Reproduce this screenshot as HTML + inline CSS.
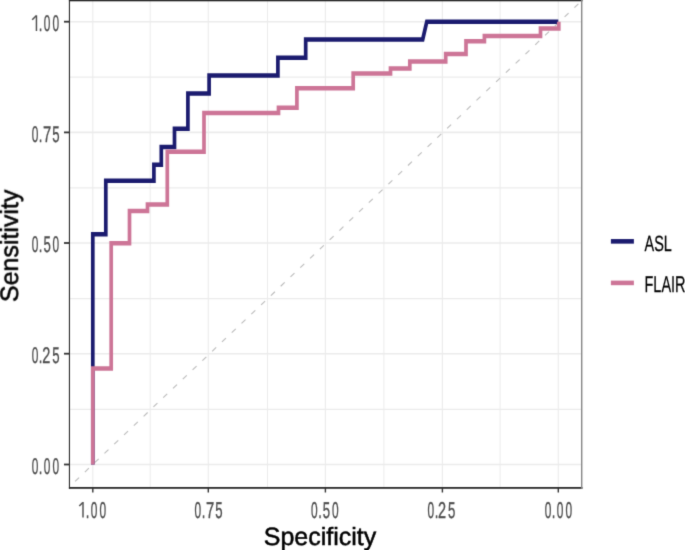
<!DOCTYPE html>
<html><head><meta charset="utf-8"><style>
html,body{margin:0;padding:0;background:#fff;}
body{width:685px;height:550px;overflow:hidden;position:relative;}
svg{position:absolute;left:0;top:0;font-family:"Liberation Sans",sans-serif;text-rendering:geometricPrecision;}
</style></head><body>
<svg width="685" height="550" viewBox="0 0 685 550">
<defs><filter id="soft" x="0" y="0" width="685" height="550" filterUnits="userSpaceOnUse" color-interpolation-filters="sRGB"><feConvolveMatrix order="3" kernelMatrix="1 6 1 6 36 6 1 6 1" divisor="64" edgeMode="duplicate"/></filter></defs>
<rect width="685" height="550" fill="#fff"/>
<g filter="url(#soft)">
<rect width="685" height="550" fill="#fff"/>
<line x1="150.20" y1="0.0" x2="150.20" y2="488.0" stroke="#ebebeb" stroke-width="1.0"/>
<line x1="267.50" y1="0.0" x2="267.50" y2="488.0" stroke="#ebebeb" stroke-width="1.0"/>
<line x1="383.90" y1="0.0" x2="383.90" y2="488.0" stroke="#ebebeb" stroke-width="1.0"/>
<line x1="500.10" y1="0.0" x2="500.10" y2="488.0" stroke="#ebebeb" stroke-width="1.0"/>
<line x1="69.5" y1="77.05" x2="581.6" y2="77.05" stroke="#ebebeb" stroke-width="1.3"/>
<line x1="69.5" y1="187.90" x2="581.6" y2="187.90" stroke="#ebebeb" stroke-width="1.3"/>
<line x1="69.5" y1="298.70" x2="581.6" y2="298.70" stroke="#ebebeb" stroke-width="1.3"/>
<line x1="69.5" y1="409.30" x2="581.6" y2="409.30" stroke="#ebebeb" stroke-width="1.3"/>
<line x1="92.8" y1="0.0" x2="92.8" y2="488.0" stroke="#ebebeb" stroke-width="1.1"/>
<line x1="208.3" y1="0.0" x2="208.3" y2="488.0" stroke="#ebebeb" stroke-width="1.1"/>
<line x1="325.4" y1="0.0" x2="325.4" y2="488.0" stroke="#ebebeb" stroke-width="1.1"/>
<line x1="442.4" y1="0.0" x2="442.4" y2="488.0" stroke="#ebebeb" stroke-width="1.1"/>
<line x1="558.3" y1="0.0" x2="558.3" y2="488.0" stroke="#ebebeb" stroke-width="1.1"/>
<line x1="69.5" y1="21.7" x2="581.6" y2="21.7" stroke="#ebebeb" stroke-width="1.6"/>
<line x1="69.5" y1="132.4" x2="581.6" y2="132.4" stroke="#ebebeb" stroke-width="1.6"/>
<line x1="69.5" y1="243.0" x2="581.6" y2="243.0" stroke="#ebebeb" stroke-width="1.6"/>
<line x1="69.5" y1="353.7" x2="581.6" y2="353.7" stroke="#ebebeb" stroke-width="1.6"/>
<line x1="69.5" y1="464.5" x2="581.6" y2="464.5" stroke="#ebebeb" stroke-width="1.6"/>
<line x1="69.50" y1="486.61" x2="581.60" y2="0.78" stroke="#b8b8b8" stroke-width="1.05" stroke-dasharray="5.5 7.995" stroke-dashoffset="5.776"/>
<g transform="scale(0.82,1)">
<polyline points="113.17,464.5 113.17,234.2 129.02,234.2 129.02,180.7 187.68,180.7 187.68,164.7 196.71,164.7 196.71,146.9 212.80,146.9 212.80,128.7 229.15,128.7 229.15,93.4 255.00,93.4 255.00,75.4 338.90,75.4 338.90,57.8 372.80,57.8 372.80,39.4 515.49,39.4 520.49,21.7 680.85,21.7" fill="none" stroke="#1b1b6f" stroke-width="4.5" stroke-linejoin="miter" stroke-linecap="butt"/>
<polyline points="113.17,464.5 113.17,368.4 135.61,368.4 135.61,243.2 157.93,243.2 157.93,211.0 179.88,211.0 179.88,204.4 204.02,204.4 204.02,151.8 248.78,151.8 248.78,113.0 339.63,113.0 339.63,107.7 362.07,107.7 362.07,88.3 430.73,88.3 430.73,73.6 476.22,73.6 476.22,68.6 499.76,68.6 499.76,61.5 543.54,61.5 543.54,54.0 568.29,54.0 568.29,41.3 590.73,41.3 590.73,35.9 659.15,35.9 659.15,28.4 681.46,28.4 681.46,21.7" fill="none" stroke="#cd7597" stroke-width="4.5" stroke-linejoin="miter" stroke-linecap="butt"/>
</g>
<rect x="68.9" y="0" width="513.6" height="1.3" fill="#262626"/>
<rect x="68.9" y="0" width="1.1" height="488.8" fill="#2a2a2a"/>
<rect x="68.9" y="487" width="513.6" height="1.8" fill="#2a2a2a"/>
<rect x="581" y="0" width="1.4" height="488.8" fill="#858585"/>
<line x1="64" y1="21.7" x2="69.5" y2="21.7" stroke="#333" stroke-width="1.8"/>
<line x1="64" y1="132.4" x2="69.5" y2="132.4" stroke="#333" stroke-width="1.8"/>
<line x1="64" y1="243.0" x2="69.5" y2="243.0" stroke="#333" stroke-width="1.8"/>
<line x1="64" y1="353.7" x2="69.5" y2="353.7" stroke="#333" stroke-width="1.8"/>
<line x1="64" y1="464.5" x2="69.5" y2="464.5" stroke="#333" stroke-width="1.8"/>
<line x1="92.8" y1="488" x2="92.8" y2="492.5" stroke="#333" stroke-width="1.4"/>
<line x1="208.3" y1="488" x2="208.3" y2="492.5" stroke="#333" stroke-width="1.4"/>
<line x1="325.4" y1="488" x2="325.4" y2="492.5" stroke="#333" stroke-width="1.4"/>
<line x1="442.4" y1="488" x2="442.4" y2="492.5" stroke="#333" stroke-width="1.4"/>
<line x1="558.3" y1="488" x2="558.3" y2="492.5" stroke="#333" stroke-width="1.4"/>
<g font-size="22.6" fill="#4d4d4d" stroke="#4d4d4d" stroke-width="0.35"><text transform="translate(38.82,30.90) scale(0.5752,1)">.</text><text transform="translate(43.74,30.90) scale(0.5265,1)">0</text><text transform="translate(52.54,30.90) scale(0.5265,1)">0</text></g>
<g font-size="22.6" fill="#4d4d4d" stroke="#4d4d4d" stroke-width="0.35"><text transform="translate(31.64,142.40) scale(0.5265,1)">0</text><text transform="translate(38.82,142.40) scale(0.5752,1)">.</text><text transform="translate(42.95,142.40) scale(0.6549,1)">7</text><text transform="translate(52.22,142.40) scale(0.5841,1)">5</text></g>
<g font-size="22.6" fill="#4d4d4d" stroke="#4d4d4d" stroke-width="0.35"><text transform="translate(31.64,252.40) scale(0.5265,1)">0</text><text transform="translate(38.82,252.40) scale(0.5752,1)">.</text><text transform="translate(43.47,252.40) scale(0.5841,1)">5</text><text transform="translate(52.54,252.40) scale(0.5265,1)">0</text></g>
<g font-size="22.6" fill="#4d4d4d" stroke="#4d4d4d" stroke-width="0.35"><text transform="translate(31.64,363.30) scale(0.5265,1)">0</text><text transform="translate(38.82,363.30) scale(0.5752,1)">.</text><text transform="translate(42.18,363.30) scale(0.6416,1)">2</text><text transform="translate(52.22,363.30) scale(0.5841,1)">5</text></g>
<g font-size="22.6" fill="#4d4d4d" stroke="#4d4d4d" stroke-width="0.35"><text transform="translate(31.64,473.60) scale(0.5265,1)">0</text><text transform="translate(38.82,473.60) scale(0.5752,1)">.</text><text transform="translate(43.74,473.60) scale(0.5265,1)">0</text><text transform="translate(52.54,473.60) scale(0.5265,1)">0</text></g>
<path d="M36.45,15.30 L36.45,31.00" stroke="#4d4d4d" stroke-width="1.45" fill="none"/><path d="M32.20,19.80 L36.25,15.70" stroke="#4d4d4d" stroke-width="1.5" fill="none" stroke-linecap="butt"/>
<g font-size="22.9" fill="#4d4d4d" stroke="#4d4d4d" stroke-width="0.35"><text transform="translate(85.82,517.60) scale(0.5677,1)">.</text><text transform="translate(90.74,517.60) scale(0.5197,1)">0</text><text transform="translate(99.54,517.60) scale(0.5197,1)">0</text></g>
<g font-size="22.9" fill="#4d4d4d" stroke="#4d4d4d" stroke-width="0.35"><text transform="translate(194.59,517.60) scale(0.5197,1)">0</text><text transform="translate(201.77,517.60) scale(0.5677,1)">.</text><text transform="translate(205.90,517.60) scale(0.6463,1)">7</text><text transform="translate(215.17,517.60) scale(0.5764,1)">5</text></g>
<g font-size="22.9" fill="#4d4d4d" stroke="#4d4d4d" stroke-width="0.35"><text transform="translate(311.04,517.60) scale(0.5197,1)">0</text><text transform="translate(318.22,517.60) scale(0.5677,1)">.</text><text transform="translate(322.87,517.60) scale(0.5764,1)">5</text><text transform="translate(331.94,517.60) scale(0.5197,1)">0</text></g>
<g font-size="22.9" fill="#4d4d4d" stroke="#4d4d4d" stroke-width="0.35"><text transform="translate(427.54,517.60) scale(0.5197,1)">0</text><text transform="translate(434.72,517.60) scale(0.5677,1)">.</text><text transform="translate(438.07,517.60) scale(0.6332,1)">2</text><text transform="translate(448.12,517.60) scale(0.5764,1)">5</text></g>
<g font-size="22.9" fill="#4d4d4d" stroke="#4d4d4d" stroke-width="0.35"><text transform="translate(544.64,517.60) scale(0.5197,1)">0</text><text transform="translate(551.82,517.60) scale(0.5677,1)">.</text><text transform="translate(556.74,517.60) scale(0.5197,1)">0</text><text transform="translate(565.54,517.60) scale(0.5197,1)">0</text></g>
<path d="M83.00,502.00 L83.00,517.50" stroke="#4d4d4d" stroke-width="1.45" fill="none"/><path d="M79.30,506.00 L82.80,502.40" stroke="#4d4d4d" stroke-width="1.5" fill="none" stroke-linecap="butt"/>
<text x="320" y="544.8" text-anchor="middle" font-size="25" fill="#000" stroke="#000" stroke-width="0.5">Specificity</text>
<text transform="translate(17.9,245.8) rotate(-90)" text-anchor="middle" font-size="25" fill="#000" stroke="#000" stroke-width="0.5">Sensitivity</text>
<line x1="610.9" y1="241.35" x2="633.9" y2="241.35" stroke="#1b1b6f" stroke-width="4.6"/>
<line x1="610.9" y1="282.9" x2="633.9" y2="282.9" stroke="#cd7597" stroke-width="4.6"/>
<text transform="translate(644.5,250.6) scale(0.6575,1)" font-size="22.0" fill="#000" stroke="#000" stroke-width="0.25">ASL</text>
<text transform="translate(644.5,292.4) scale(0.6344,1)" font-size="22.8" fill="#000" stroke="#000" stroke-width="0.25">FLAIR</text>
</g>
</svg>
</body></html>
